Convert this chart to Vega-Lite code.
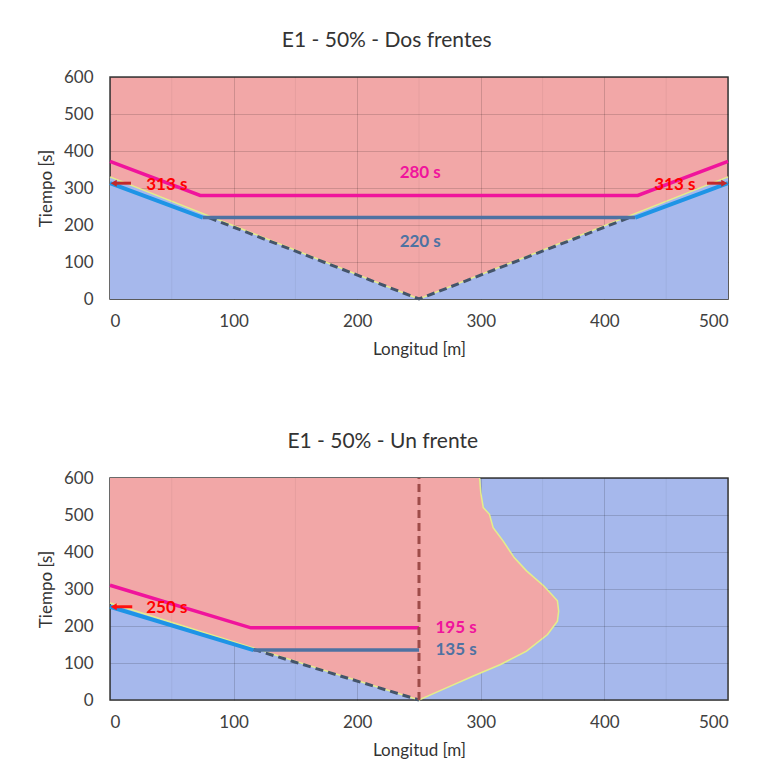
{
  "$schema": "https://vega.github.io/schema/vega-lite/v6.json",
  "background": "white",
  "padding": {"left": 36, "top": 29, "right": 10, "bottom": 10},
  "spacing": 72,
  "config": {
    "font": "Lato",
    "view": {"stroke": "#3a3a3a", "strokeWidth": 1.5},
    "title": {"fontSize": 21, "fontWeight": "normal", "color": "#333333", "frame": "bounds", "anchor": "middle", "offset": 17, "font": "Lato"},
    "axis": {"labelFont": "Lato", "labelFontSize": 17, "labelColor": "#404040", "titleFont": "Lato", "titleFontSize": 17, "titleFontWeight": "normal", "titleColor": "#333333", "ticks": false, "domain": false, "gridColor": "#000000", "gridOpacity": 0.15, "zindex": 1}
  },
  "vconcat": [
    {
      "title": "E1 - 50% - Dos frentes",
      "width": 618,
      "height": 222,
      "view": {"fill": "#F2A7A7"},
      "encoding": {
        "x": {"field": "x", "type": "quantitative", "scale": {"domain": [0, 500], "nice": false}, "axis": {"values": [0, 100, 200, 300, 400, 500], "title": "Longitud [m]", "labelPadding": 14, "titlePadding": 12}},
        "y": {"field": "y", "type": "quantitative", "scale": {"domain": [0, 600], "nice": false}, "axis": {"values": [0, 100, 200, 300, 400, 500, 600], "title": "Tiempo [s]", "labelPadding": 17, "titlePadding": 8}}
      },
      "layer": [
        {
          "data": {"values": [{"x": 0, "y": 330}, {"x": 250, "y": 0}, {"x": 500, "y": 330}]},
          "mark": {"type": "area", "color": "#A6B8EC"}
        },
        {
          "data": {"values": [{"x": 0, "y": 330}, {"x": 250, "y": 0}, {"x": 500, "y": 330}]},
          "mark": {"type": "line", "color": "#E4EE8A", "strokeWidth": 1.5}
        },
        {
          "data": {"values": [{"x": 50, "y": 0, "y2": 600}, {"x": 150, "y": 0, "y2": 600}, {"x": 250, "y": 0, "y2": 600}, {"x": 350, "y": 0, "y2": 600}, {"x": 450, "y": 0, "y2": 600}]},
          "mark": {"type": "rule", "color": "#000000", "opacity": 0.05, "strokeWidth": 1},
          "encoding": {"y2": {"field": "y2"}}
        },
        {
          "data": {"values": [{"x": 80, "y": 220}, {"x": 250, "y": 0}, {"x": 420, "y": 220}]},
          "mark": {"type": "line", "color": "#44546A", "strokeWidth": 3, "strokeDash": [8, 5]}
        },
        {
          "data": {"values": [{"x": 75, "y": 220}, {"x": 425, "y": 220}]},
          "mark": {"type": "line", "color": "#4E72A2", "strokeWidth": 3.5}
        },
        {
          "data": {"values": [{"x": 0, "y": 313, "s": "a"}, {"x": 75, "y": 220, "s": "a"}, {"x": 425, "y": 220, "s": "b"}, {"x": 500, "y": 313, "s": "b"}]},
          "mark": {"type": "line", "color": "#1E94E6", "strokeWidth": 4},
          "encoding": {"detail": {"field": "s"}}
        },
        {
          "data": {"values": [{"x": 0, "y": 372}, {"x": 73, "y": 280}, {"x": 427, "y": 280}, {"x": 500, "y": 372}]},
          "mark": {"type": "line", "color": "#F0149C", "strokeWidth": 3.5}
        },
        {
          "data": {"values": [{"x": 3, "y": 313, "s": "l"}, {"x": 17, "y": 313, "s": "l"}, {"x": 483, "y": 313, "s": "r"}, {"x": 497, "y": 313, "s": "r"}]},
          "mark": {"type": "line", "color": "#C0282A", "strokeWidth": 3},
          "encoding": {"detail": {"field": "s"}}
        },
        {
          "data": {"values": [{"x": 3, "y": 313, "dir": "l"}, {"x": 497, "y": 313, "dir": "r"}]},
          "mark": {"type": "point", "filled": true, "color": "#C0282A", "opacity": 1, "size": 50},
          "encoding": {"shape": {"field": "dir", "type": "nominal", "scale": {"domain": ["l", "r"], "range": ["triangle-left", "triangle-right"]}, "legend": null}}
        },
        {
          "data": {"values": [{"x": 46, "y": 309, "label": "313 s"}, {"x": 457, "y": 309, "label": "313 s"}]},
          "mark": {"type": "text", "color": "#FF0000", "fontSize": 17, "fontWeight": "bold", "font": "Lato"},
          "encoding": {"text": {"field": "label"}}
        },
        {
          "data": {"values": [{"x": 251, "y": 341, "label": "280 s"}]},
          "mark": {"type": "text", "color": "#F0149C", "fontSize": 17, "fontWeight": "bold", "font": "Lato"},
          "encoding": {"text": {"field": "label"}}
        },
        {
          "data": {"values": [{"x": 251, "y": 154, "label": "220 s"}]},
          "mark": {"type": "text", "color": "#4E72A2", "fontSize": 17, "fontWeight": "bold", "font": "Lato"},
          "encoding": {"text": {"field": "label"}}
        }
      ]
    },
    {
      "title": "E1 - 50% - Un frente",
      "width": 618,
      "height": 222,
      "view": {"fill": "#A6B8EC"},
      "encoding": {
        "x": {"field": "x", "type": "quantitative", "scale": {"domain": [0, 500], "nice": false}, "axis": {"values": [0, 100, 200, 300, 400, 500], "title": "Longitud [m]", "labelPadding": 14, "titlePadding": 12}},
        "y": {"field": "y", "type": "quantitative", "scale": {"domain": [0, 600], "nice": false}, "axis": {"values": [0, 100, 200, 300, 400, 500, 600], "title": "Tiempo [s]", "labelPadding": 17, "titlePadding": 8}}
      },
      "layer": [
        {
          "data": {"values": [
            {"y": 0, "x": 250, "x2": 250},
            {"y": 30, "x": 221.4, "x2": 270.3},
            {"y": 65, "x": 188, "x2": 294},
            {"y": 96, "x": 158.4, "x2": 316},
            {"y": 132, "x": 124, "x2": 337},
            {"y": 177, "x": 81.1, "x2": 354},
            {"y": 213, "x": 46.8, "x2": 362},
            {"y": 240, "x": 21, "x2": 363},
            {"y": 262, "x": 0, "x2": 362.5},
            {"y": 268, "x": 0, "x2": 362},
            {"y": 308, "x": 0, "x2": 351},
            {"y": 349, "x": 0, "x2": 337},
            {"y": 385, "x": 0, "x2": 327},
            {"y": 430, "x": 0, "x2": 318},
            {"y": 466, "x": 0, "x2": 310},
            {"y": 502, "x": 0, "x2": 307},
            {"y": 520, "x": 0, "x2": 302},
            {"y": 560, "x": 0, "x2": 300},
            {"y": 600, "x": 0, "x2": 299}
          ]},
          "mark": {"type": "area", "orient": "horizontal", "color": "#F2A7A7", "opacity": 1},
          "encoding": {"x2": {"field": "x2"}}
        },
        {
          "data": {"values": [
            {"o": 1, "x": 0, "y": 262}, {"o": 2, "x": 250, "y": 0}, {"o": 3, "x": 270.3, "y": 30}, {"o": 4, "x": 294, "y": 65},
            {"o": 5, "x": 316, "y": 96}, {"o": 6, "x": 337, "y": 132}, {"o": 7, "x": 354, "y": 177}, {"o": 8, "x": 362, "y": 213},
            {"o": 9, "x": 363, "y": 240}, {"o": 10, "x": 362, "y": 268}, {"o": 11, "x": 351, "y": 308}, {"o": 12, "x": 337, "y": 349},
            {"o": 13, "x": 327, "y": 385}, {"o": 14, "x": 318, "y": 430}, {"o": 15, "x": 310, "y": 466}, {"o": 16, "x": 307, "y": 502},
            {"o": 17, "x": 302, "y": 520}, {"o": 18, "x": 300, "y": 560}, {"o": 19, "x": 299, "y": 600}
          ]},
          "mark": {"type": "line", "color": "#E4EE8A", "strokeWidth": 1.5},
          "encoding": {"order": {"field": "o", "type": "quantitative"}}
        },
        {
          "data": {"values": [{"x": 50, "y": 0, "y2": 600}, {"x": 150, "y": 0, "y2": 600}, {"x": 250, "y": 0, "y2": 600}, {"x": 350, "y": 0, "y2": 600}, {"x": 450, "y": 0, "y2": 600}]},
          "mark": {"type": "rule", "color": "#000000", "opacity": 0.05, "strokeWidth": 1},
          "encoding": {"y2": {"field": "y2"}}
        },
        {
          "data": {"values": [{"x": 116, "y": 137}, {"x": 250, "y": 0}]},
          "mark": {"type": "line", "color": "#44546A", "strokeWidth": 3, "strokeDash": [8, 5]}
        },
        {
          "data": {"values": [{"x": 116, "y": 135}, {"x": 250, "y": 135}]},
          "mark": {"type": "line", "color": "#4E72A2", "strokeWidth": 3.5}
        },
        {
          "data": {"values": [{"x": 0, "y": 252}, {"x": 116, "y": 135}]},
          "mark": {"type": "line", "color": "#1E94E6", "strokeWidth": 4}
        },
        {
          "data": {"values": [{"x": 0, "y": 310}, {"x": 114, "y": 195}, {"x": 250, "y": 195}]},
          "mark": {"type": "line", "color": "#F0149C", "strokeWidth": 3.5}
        },
        {
          "data": {"values": [{"x": 250, "y": 0}, {"x": 250, "y": 600}]},
          "mark": {"type": "line", "color": "#9E4B48", "strokeWidth": 3, "strokeDash": [8, 5]}
        },
        {
          "data": {"values": [{"x": 3, "y": 252}, {"x": 18, "y": 252}]},
          "mark": {"type": "line", "color": "#FF1010", "strokeWidth": 3}
        },
        {
          "data": {"values": [{"x": 3, "y": 252}]},
          "mark": {"type": "point", "shape": "triangle-left", "filled": true, "color": "#FF1010", "opacity": 1, "size": 50}
        },
        {
          "data": {"values": [{"x": 46, "y": 249, "label": "250 s"}]},
          "mark": {"type": "text", "color": "#FF0000", "fontSize": 17, "fontWeight": "bold", "font": "Lato"},
          "encoding": {"text": {"field": "label"}}
        },
        {
          "data": {"values": [{"x": 280, "y": 195, "label": "195 s"}]},
          "mark": {"type": "text", "color": "#F0149C", "fontSize": 17, "fontWeight": "bold", "font": "Lato"},
          "encoding": {"text": {"field": "label"}}
        },
        {
          "data": {"values": [{"x": 280, "y": 134, "label": "135 s"}]},
          "mark": {"type": "text", "color": "#4E72A2", "fontSize": 17, "fontWeight": "bold", "font": "Lato"},
          "encoding": {"text": {"field": "label"}}
        }
      ]
    }
  ]
}
